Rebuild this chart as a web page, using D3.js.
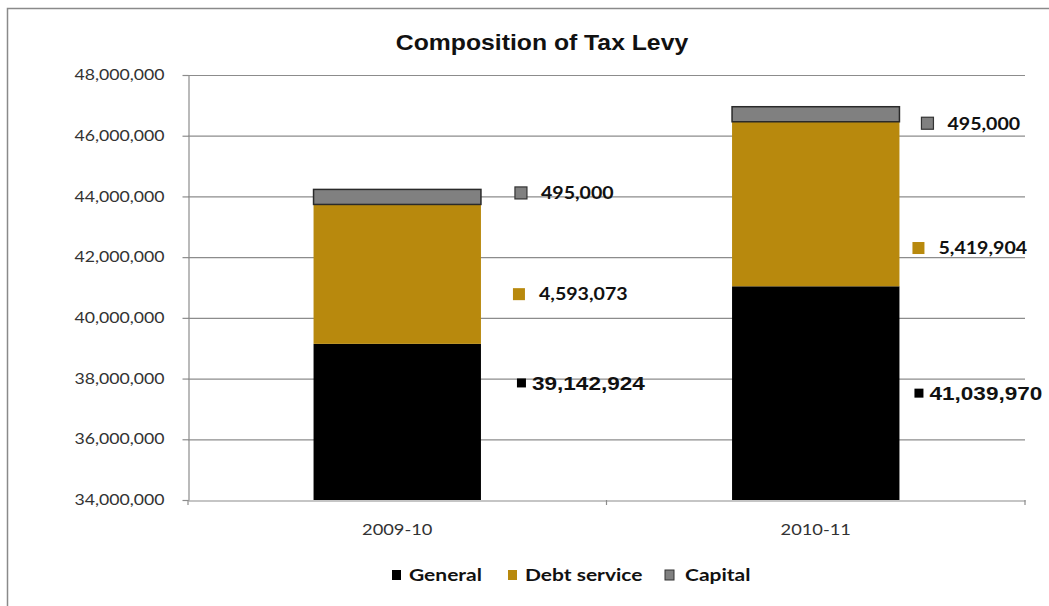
<!DOCTYPE html>
<html><head><meta charset="utf-8">
<script src="https://cdn.jsdelivr.net/npm/d3@7"></script>
<style>body{margin:0;background:#fff}svg{display:block}</style>
</head><body>
<svg id="c" width="1049" height="606"></svg>
<script>
// ---- data ----
const categories = ["2009-10", "2010-11"];
const seriesNames = ["General", "Debt service", "Capital"];
const general = [39142924, 41039970];
const debtService = [4593073, 5419904];
const capital = [495000, 495000];
const yTickValues = [34000000, 36000000, 38000000, 40000000, 42000000, 44000000, 46000000, 48000000];
const titleText = "Composition of Tax Levy";

// ---- styles ----
const colors = {"General": "#000000", "Debt service": "#B8890D", "Capital": "#808080"};
const calibri = "Lato, 'Open Sans', sans-serif";
const arial = "'Liberation Sans', Arial, sans-serif";
const SX = 1.22; // horizontal stretch of the original picture

const svg = d3.select("#c");
const W = 1049, H = 606;
const m = {left: 188, right: 1025, top: 75, bottom: 500};

// chart border
svg.append("rect").attr("x", 7.5).attr("y", 8.5).attr("width", W + 20).attr("height", H + 20)
  .attr("fill", "#fff").attr("stroke", "#8a8a8a").attr("stroke-width", 1.5);

const rows = categories.map((c, i) => ({cat: c, "General": general[i], "Debt service": debtService[i], "Capital": capital[i]}));
const stack = d3.stack().keys(seriesNames)(rows);

const y = d3.scaleLinear().domain([yTickValues[0], yTickValues[yTickValues.length - 1]]).range([m.bottom, m.top]);
const x = d3.scaleBand().domain(categories).range([m.left, m.right]).paddingInner(0).paddingOuter(0);
const barW = x.bandwidth() / 2.5;

// gridlines
svg.append("g").selectAll("line").data(yTickValues.slice(1)).join("line")
  .attr("x1", m.left).attr("x2", m.right).attr("y1", d => y(d) + 0.5).attr("y2", d => y(d) + 0.5)
  .attr("stroke", "#8c8c8c").attr("stroke-width", 1.2);

// y axis
const yAxis = svg.append("g").attr("transform", `translate(${m.left + 0.5},0)`)
  .call(d3.axisLeft(y).tickValues(yTickValues).tickFormat(d3.format(",")).tickSize(6).tickSizeOuter(0));
yAxis.select(".domain").attr("stroke", "#8c8c8c").attr("stroke-width", 1.2);
yAxis.selectAll(".tick line").attr("stroke", "#8c8c8c").attr("stroke-width", 1.2);
yAxis.selectAll(".tick text")
  .attr("font-family", calibri).attr("font-size", 14.5).attr("fill", "#333")
  .attr("x", -24 / SX).attr("transform", `scale(${SX},1)`);

// x axis
const xAxis = svg.append("g").attr("transform", `translate(0,${m.bottom + 0.5})`)
  .call(d3.axisBottom(x).tickSize(0).tickSizeOuter(0));
xAxis.select(".domain").attr("stroke", "#8c8c8c").attr("stroke-width", 1.2);
xAxis.selectAll(".tick text").remove();
svg.append("g").selectAll("line").data([m.left, (m.left + m.right) / 2, m.right]).join("line")
  .attr("x1", d => d).attr("x2", d => d).attr("y1", m.bottom).attr("y2", m.bottom + 5)
  .attr("stroke", "#8c8c8c").attr("stroke-width", 1.2);
svg.append("g").selectAll("text").data(categories).join("text")
  .attr("transform", d => `translate(${x(d) + x.bandwidth() / 2},${m.bottom + 35}) scale(${SX},1)`)
  .attr("text-anchor", "middle").attr("font-family", calibri).attr("font-size", 15).attr("fill", "#333")
  .text(d => d);

// bars
stack.forEach(s => {
  const g = svg.append("g");
  g.selectAll("rect").data(s).join("rect")
    .attr("x", d => x(d.data.cat) + x.bandwidth() / 2 - barW / 2)
    .attr("width", barW)
    .attr("y", d => y(d[1]))
    .attr("height", d => y(Math.max(d[0], y.domain()[0])) - y(d[1]))
    .attr("fill", colors[s.key])
    .attr("stroke", s.key === "Capital" ? "#2a2a2a" : "none")
    .attr("stroke-width", s.key === "Capital" ? 1.5 : 0);
});

// data labels (with legend keys), nudged as in the original
const labelNudge = {
  "General": [[36, -39], [15, 0]],
  "Debt service": [[32, 20], [13, 44]],
  "Capital": [[34, -4], [22, 9]]
};
const fmt = d3.format(",");
stack.forEach(s => {
  s.forEach((d, i) => {
    const bx = x(d.data.cat) + x.bandwidth() / 2 + barW / 2 + labelNudge[s.key][i][0];
    const by = (y(Math.max(d[0], y.domain()[0])) + y(d[1])) / 2 + labelNudge[s.key][i][1];
    const isGen = s.key === "General";
    const sz = isGen ? 9 : 12;
    svg.append("rect").attr("x", bx).attr("y", by - sz / 2).attr("width", sz).attr("height", sz)
      .attr("fill", colors[s.key])
      .attr("stroke", s.key === "Capital" ? "#333" : "none").attr("stroke-width", 1.2);
    svg.append("text")
      .attr("transform", `translate(${bx + sz + (isGen ? 6 : 14)},${by}) scale(${isGen ? 1.22 : 1.12},1)`)
      .attr("dy", "0.36em")
      .attr("font-family", isGen ? arial : calibri).attr("font-weight", "bold")
      .attr("font-size", isGen ? 18.5 : 17.5).attr("fill", "#111")
      .text(fmt(d.data[s.key]));
  });
});

// title
svg.append("text").attr("transform", `translate(542,42) scale(1.1,1)`)
  .attr("text-anchor", "middle").attr("dy", "0.36em")
  .attr("font-family", arial).attr("font-weight", "bold").attr("font-size", 22.5).attr("fill", "#111")
  .text(titleText);

// legend
const legendX = [392, 508, 665];
const legendGap = [17, 17, 20];
const lg = svg.append("g");
seriesNames.forEach((n, i) => {
  const lx = legendX[i];
  lg.append("rect").attr("x", lx).attr("y", 570).attr("width", 9).attr("height", 10)
    .attr("fill", colors[n]).attr("stroke", n === "Capital" ? "#333" : "none").attr("stroke-width", 1);
  lg.append("text").attr("transform", `translate(${lx + legendGap[i]},575) scale(1.2,1)`)
    .attr("dy", "0.36em").attr("font-family", calibri).attr("font-weight", "bold").attr("font-size", 17.5).attr("fill", "#111")
    .text(n);
});
</script>
</body></html>
